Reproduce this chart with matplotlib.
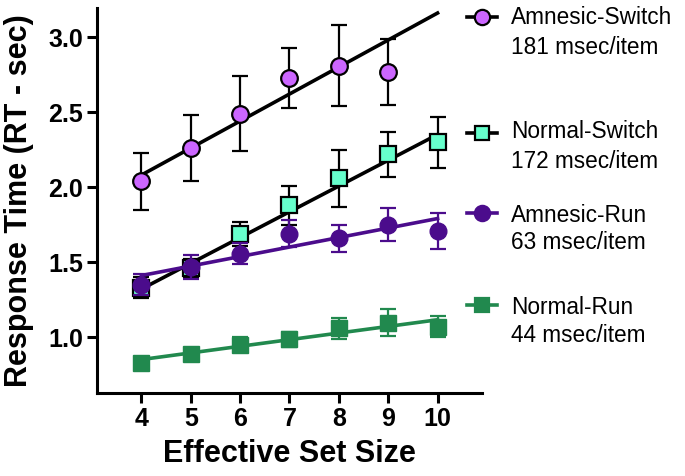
import numpy as np
import matplotlib
matplotlib.use("Agg")
from matplotlib import pyplot as plt
from matplotlib.lines import Line2D

plt.rcParams['font.family'] = ['Liberation Sans', 'DejaVu Sans']

# effective set size
set_size = [4, 5, 6, 7, 8, 9, 10]

# mean RT (sec) and error bar half-widths
amnesic_switch = [2.04, 2.26, 2.49, 2.73, 2.81, 2.77]
amnesic_switch_err = [0.19, 0.22, 0.25, 0.20, 0.27, 0.22]
normal_switch = [1.33, 1.46, 1.69, 1.88, 2.06, 2.22, 2.30]
normal_switch_err = [0.07, 0.06, 0.08, 0.13, 0.19, 0.15, 0.17]
amnesic_run = [1.35, 1.47, 1.555, 1.69, 1.66, 1.75, 1.71]
amnesic_run_err = [0.07, 0.08, 0.07, 0.09, 0.09, 0.11, 0.12]
normal_run = [0.83, 0.89, 0.95, 0.985, 1.06, 1.095, 1.07]
normal_run_err = [0.02, 0.03, 0.05, 0.05, 0.07, 0.09, 0.07]

# regression lines: value at set size 4 and at set size 10
fit_x = [4, 10]
amnesic_switch_fit = [2.08, 3.16]
normal_switch_fit = [1.32, 2.35]
amnesic_run_fit = [1.41, 1.79]
normal_run_fit = [0.85, 1.115]

labels = ['Amnesic-Switch', 'Normal-Switch', 'Amnesic-Run', 'Normal-Run']
slopes = ['181 msec/item', '172 msec/item', '63 msec/item', '44 msec/item']

violet = '#CC66FF'
aqua = '#66FFCC'
purple = '#4B0C8C'
green = '#21894E'

fig = plt.figure(figsize=(6.85, 4.76), dpi=100)
ax = fig.add_axes([0.1416, 0.1744, 0.5620, 0.8086])

# normal-run
ax.plot(fit_x, normal_run_fit, '-', color=green, lw=2.6, zorder=2)
ax.errorbar(set_size, normal_run, yerr=normal_run_err, fmt='s', color=green, ecolor=green,
            markersize=11, elinewidth=1.6, capsize=6, capthick=1.6, zorder=3)

# normal-switch
ax.plot(fit_x, normal_switch_fit, '-', color='black', lw=2.6, zorder=4)
ax.errorbar(set_size, normal_switch, yerr=normal_switch_err, fmt='s', color='black', ecolor='black',
            markerfacecolor=aqua, markeredgecolor='black', markeredgewidth=1.6,
            markersize=11, elinewidth=1.6, capsize=6, capthick=1.6, zorder=5)

# amnesic-run
ax.plot(fit_x, amnesic_run_fit, '-', color=purple, lw=2.6, zorder=6)
ax.errorbar(set_size, amnesic_run, yerr=amnesic_run_err, fmt='o', color=purple, ecolor=purple,
            markersize=12, elinewidth=1.6, capsize=6, capthick=1.6, zorder=7)

# amnesic-switch
ax.plot(fit_x, amnesic_switch_fit, '-', color='black', lw=2.6, zorder=8)
ax.errorbar(set_size[:6], amnesic_switch, yerr=amnesic_switch_err, fmt='o', color='black', ecolor='black',
            markerfacecolor=violet, markeredgecolor='black', markeredgewidth=1.6,
            markersize=12, elinewidth=1.6, capsize=6, capthick=1.6, zorder=9)

ax.set_xlim(3.1, 10.9)
ax.set_ylim(0.627, 3.193)
ax.set_xticks(set_size)
ax.set_yticks([1.0, 1.5, 2.0, 2.5, 3.0])
ax.set_yticklabels(['1.0', '1.5', '2.0', '2.5', '3.0'])
ax.spines['top'].set_visible(False)
ax.spines['right'].set_visible(False)
ax.spines['left'].set_linewidth(2.2)
ax.spines['bottom'].set_linewidth(2.2)
ax.tick_params(axis='both', width=2.2, length=7, labelsize=18, pad=3)
for lab in ax.get_xticklabels() + ax.get_yticklabels():
    lab.set_fontweight('bold')
ax.set_xlabel('Effective Set Size', fontsize=22, fontweight='bold', labelpad=6)
ax.set_ylabel('Response Time (RT - sec)', fontsize=22, fontweight='bold', labelpad=10)

# legend drawn by hand (entries are not evenly spaced)
W, H = 685.0, 476.0
handle_y = [17, 133, 213, 305]
text_y = [(18, 47), (132, 161), (215, 243), (307, 335)]
styles = [
    dict(color='black', marker='o', mfc=violet, mec='black', ms=11),
    dict(color='black', marker='s', mfc=aqua, mec='black', ms=10),
    dict(color=purple, marker='o', mfc=purple, mec=purple, ms=11),
    dict(color=green, marker='s', mfc=green, mec=green, ms=10),
]
for lab, sl, hy, (ty1, ty2), st in zip(labels, slopes, handle_y, text_y, styles):
    fig.add_artist(Line2D([467 / W, 497 / W], [1 - hy / H, 1 - hy / H], lw=2.6, color=st['color']))
    fig.add_artist(Line2D([482 / W], [1 - hy / H], marker=st['marker'], ms=st['ms'],
                          markerfacecolor=st['mfc'], markeredgecolor=st['mec'], markeredgewidth=1.6))
    fig.text(511 / W, 1 - ty1 / H, lab, fontsize=16.3, va='center', ha='left')
    fig.text(511 / W, 1 - ty2 / H, sl, fontsize=16.3, va='center', ha='left')

fig.savefig('out.png', dpi=100)
